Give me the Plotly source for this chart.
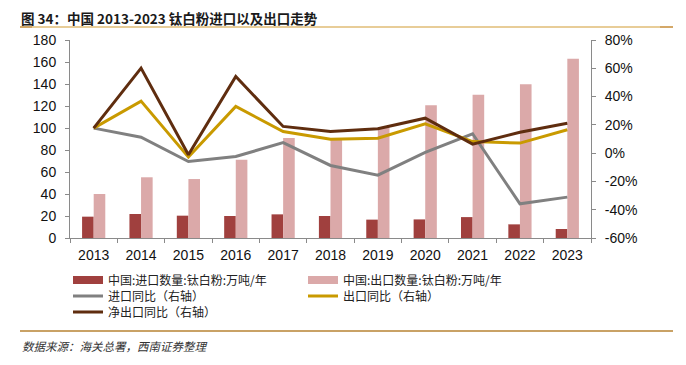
import plotly.graph_objects as go

years = ["2013", "2014", "2015", "2016", "2017", "2018", "2019", "2020", "2021", "2022", "2023"]
import_qty = [19.4, 21.8, 20.3, 20.0, 21.5, 20.0, 16.7, 16.9, 19.0, 12.4, 8.2]
export_qty = [40.0, 55.2, 53.6, 71.2, 91.0, 90.0, 101.0, 120.6, 130.3, 139.7, 163.0]
import_yoy = [17.7, 11.3, -5.9, -2.4, 7.5, -8.7, -15.6, 0.5, 13.7, -35.8, -31.1]
export_yoy = [17.7, 36.8, -2.8, 33.0, 15.3, 9.9, 10.6, 20.7, 8.2, 7.1, 16.5]
net_export_yoy = [17.7, 60.1, -1.2, 54.2, 18.9, 15.3, 17.2, 24.7, 6.4, 14.8, 21.2]

left_ticks = list(range(0, 181, 20))
right_ticks = list(range(-60, 81, 20))
right_labels = [f"{v}%" for v in right_ticks]

names = ["中国:进口数量:钛白粉:万吨/年", "中国:出口数量:钛白粉:万吨/年",
         "进口同比（右轴）", "出口同比（右轴）", "净出口同比（右轴）"]

C_IMP = "#A0403E"
C_EXP = "#DBA9A9"
C_GRAY = "#808080"
C_GOLD = "#C99A00"
C_BROWN = "#5F2D0F"

# page offset (body margin) and plot box in page pixels
OFF = 8
PL, PR, PT, PB = 70, 591, 40, 238
W, H = 686, 365
PW, PH = PR - PL, PB - PT


def px_x(x):
    return (x - PL) / PW


def px_y(y):
    return (PB - y) / PH


fig = go.Figure()
fig.add_trace(go.Bar(x=years, y=import_qty, name=names[0], marker_color=C_IMP,
                     marker_line_width=0, showlegend=False))
fig.add_trace(go.Bar(x=years, y=export_qty, name=names[1], marker_color=C_EXP,
                     marker_line_width=0, showlegend=False))
fig.add_trace(go.Scatter(x=years, y=import_yoy, name=names[2], mode="lines", yaxis="y2",
                         line=dict(color=C_GRAY, width=3), legend="legend2"))
fig.add_trace(go.Scatter(x=years, y=export_yoy, name=names[3], mode="lines", yaxis="y2",
                         line=dict(color=C_GOLD, width=3), legend="legend2"))
fig.add_trace(go.Scatter(x=years, y=net_export_yoy, name=names[4], mode="lines", yaxis="y2",
                         line=dict(color=C_BROWN, width=3), legend="legend3"))
# legend swatches for the bar series (wide rectangles as in the reference)
fig.add_trace(go.Scatter(x=[None], y=[None], name=names[0], mode="lines",
                         line=dict(color=C_IMP, width=8), legend="legend"))
fig.add_trace(go.Scatter(x=[None], y=[None], name=names[1], mode="lines",
                         line=dict(color=C_EXP, width=8), legend="legend"))

tick_font = dict(family="Liberation Sans, Arial, sans-serif", size=14, color="#111111")
leg_font = dict(family="Noto Sans CJK SC", size=12, color="#222222")


def leg(row_center_page):
    top = row_center_page - 14.5
    return dict(orientation="h", x=px_x(68), xanchor="left", y=px_y(top), yanchor="top",
                entrywidth=190, entrywidthmode="pixels", font=leg_font, itemwidth=30,
                bgcolor="rgba(0,0,0,0)", traceorder="normal")


fig.update_layout(
    width=W, height=H,
    margin=dict(l=PL - OFF, r=W - (PR - OFF), t=PT - OFF, b=H - (PB - OFF)),
    paper_bgcolor="white", plot_bgcolor="white",
    barmode="group", bargap=0.51, bargroupgap=0,
    showlegend=True,
    legend=leg(280),
    legend2=leg(296),
    legend3=leg(312),
    xaxis=dict(type="category", showgrid=False, showline=True, linecolor="#8a8a8a",
               linewidth=1, ticks="outside", tickson="boundaries", ticklen=4,
               tickcolor="#8a8a8a", tickfont=tick_font, zeroline=False,
               ticklabelstandoff=4),
    yaxis=dict(range=[0, 180], tickvals=left_ticks, showgrid=False, showline=True,
               linecolor="#8a8a8a", linewidth=1, ticks="outside", ticklen=4,
               tickcolor="#8a8a8a", tickfont=tick_font, zeroline=False,
               ticklabelstandoff=6),
    yaxis2=dict(range=[-60, 80], tickvals=right_ticks, ticktext=right_labels, overlaying="y",
                side="right", showgrid=False, showline=True, linecolor="#8a8a8a",
                linewidth=1, ticks="outside", ticklen=4, tickcolor="#8a8a8a",
                tickfont=tick_font, zeroline=False, ticklabelstandoff=6),
)

fig.add_annotation(text="<b>图 34：中国 2013-2023 钛白粉进口以及出口走势</b>", xref="paper", yref="paper",
                   x=px_x(20), y=px_y(17.5), xanchor="left", yanchor="middle", borderpad=0,
                   showarrow=False, font=dict(family="Noto Sans CJK SC", size=13.5, color="#1a1a1a"))
fig.add_annotation(text="<i>数据来源：海关总署，西南证券整理</i>", xref="paper", yref="paper",
                   x=px_x(20), y=px_y(346), xanchor="left", yanchor="middle",
                   showarrow=False, font=dict(family="Noto Sans CJK SC", size=11.5, color="#333333"))

fig.add_shape(type="line", xref="paper", yref="paper", x0=px_x(20), x1=px_x(673),
              y0=px_y(27), y1=px_y(27), line=dict(color="#E8CD98", width=2))
fig.add_shape(type="line", xref="paper", yref="paper", x0=px_x(20), x1=px_x(32),
              y0=px_y(27), y1=px_y(27), line=dict(color="#D4A868", width=2))
fig.add_shape(type="line", xref="paper", yref="paper", x0=px_x(660), x1=px_x(673),
              y0=px_y(27), y1=px_y(27), line=dict(color="#D4A868", width=2))
fig.add_shape(type="line", xref="paper", yref="paper", x0=px_x(20), x1=px_x(673),
              y0=px_y(331), y1=px_y(331), line=dict(color="#C9A266", width=2))

fig.write_html("out.html")
